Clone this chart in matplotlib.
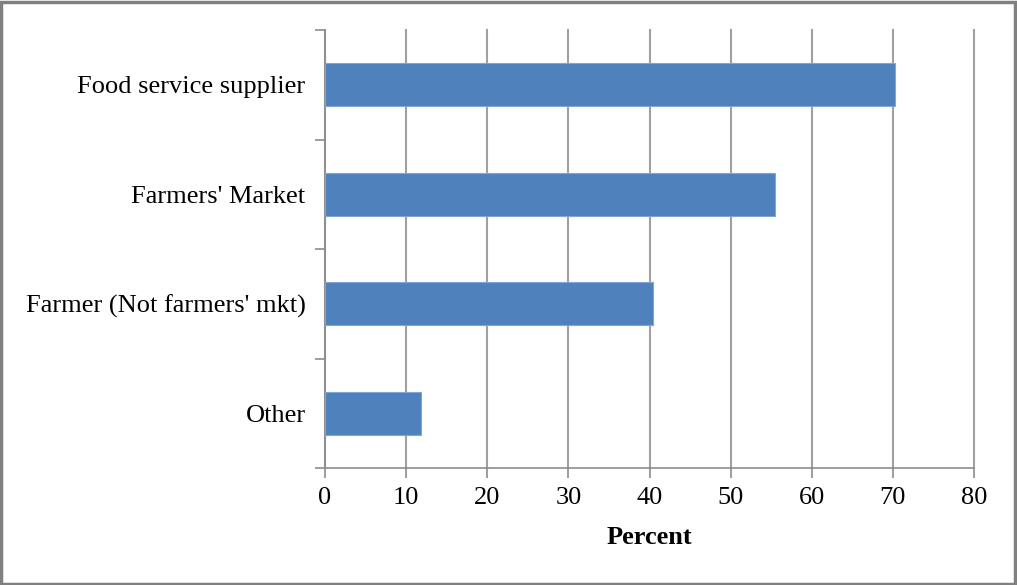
import matplotlib
matplotlib.use("Agg")
import matplotlib.pyplot as plt
from matplotlib.patches import Rectangle

categories = ["Other", "Farmer (Not farmers' mkt)", "Farmers' Market", "Food service supplier"]
values = [11.8, 40.4, 55.5, 70.3]
xticks = [0, 10, 20, 30, 40, 50, 60, 70, 80]

plt.rcParams['font.family'] = ['Liberation Serif', 'DejaVu Serif']

W, H = 1017, 585
fig = plt.figure(figsize=(W / 100, H / 100), dpi=100)
ax = fig.add_axes([325 / W, 1 - 468 / H, (974 - 325) / W, (468 - 30) / H])

pos = list(range(len(categories)))
ax.barh(pos, values, height=0.39, color='#4f81bd', edgecolor='#7fa6d6', linewidth=0.8, zorder=3)
ax.set_ylim(-0.5, len(categories) - 0.5)
ax.set_xlim(0, 80)
ax.set_xticks(xticks)
ax.set_xticklabels([str(t) for t in xticks], fontsize=19)
ax.xaxis.grid(True, color='#a0a0a0', linewidth=1.5, zorder=0)
ax.set_axisbelow(True)
for gl in ax.get_xgridlines():
    gl.set_clip_on(False)

# category labels without ticks; ticks at boundaries
ax.set_yticks(pos)
ax.set_yticklabels(categories, fontsize=19)
ax.tick_params(axis='y', which='major', length=0, pad=14)
ax.set_yticks([p - 0.5 for p in range(len(categories) + 1)], minor=True)
ax.tick_params(axis='y', which='minor', length=7, width=1.2, color='#8c8c8c', direction='out')
ax.tick_params(axis='x', which='major', length=7, width=1.2, color='#8c8c8c', direction='out', pad=7)

for s in ['top', 'right']:
    ax.spines[s].set_visible(False)
ax.spines['left'].set_color('#8c8c8c')
ax.spines['left'].set_linewidth(1.2)
ax.spines['bottom'].set_color('#8c8c8c')
ax.spines['bottom'].set_linewidth(1.2)

ax.set_xlabel('Percent', fontsize=19, fontweight='bold', labelpad=12)

fig.patches.append(Rectangle((0.001, 0.002), 0.997, 0.995, transform=fig.transFigure,
                             fill=False, edgecolor='#808080', linewidth=2.5))

fig.savefig('out.png', dpi=100, facecolor='white')
